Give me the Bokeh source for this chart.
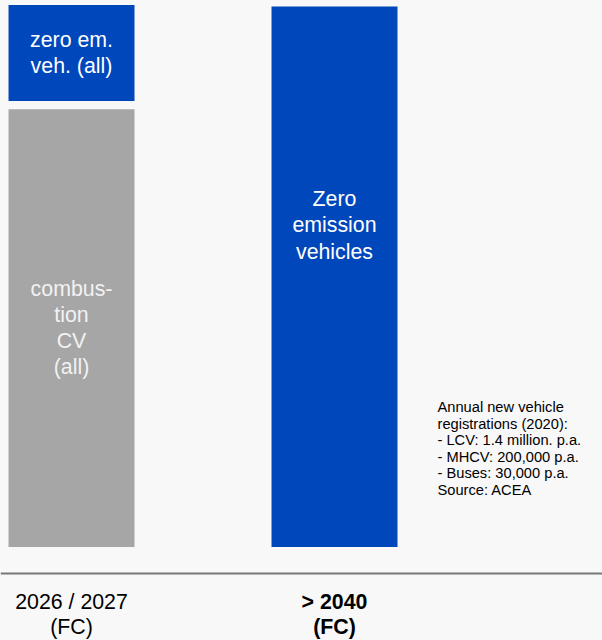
from bokeh.plotting import figure
from bokeh.models import ColumnDataSource, Span, Range1d
from bokeh.core.properties import value
from bokeh.embed import file_html
from bokeh.resources import INLINE

# ---- data ----
periods = ["2026 / 2027\n(FC)", "> 2040\n(FC)"]
combustion_share = [81, 0]      # % combustion commercial vehicles
zero_em_share = [19, 100]       # % zero emission vehicles
combustion_labels = ["combus-\ntion\nCV\n(all)", ""]
zero_em_labels = ["zero em.\nveh. (all)", "Zero\nemission\nvehicles"]
note = ("Annual new vehicle\nregistrations (2020):\n- LCV: 1.4 million. p.a.\n"
        "- MHCV: 200,000 p.a.\n- Buses: 30,000 p.a.\nSource: ACEA")

BLUE = "#0047BB"
GRAY = "#A6A6A6"
BG = "#F8F8F8"
FONT = value("Liberation Sans")
GAP = 1.5

xs = [0, 1]
p = figure(width=602, height=640, output_backend="svg", toolbar_location=None,
           x_range=Range1d(-0.27, 2.019), y_range=Range1d(-17.30, 101.11),
           min_border=0, outline_line_color=None,
           background_fill_color=BG, border_fill_color=BG)
p.axis.visible = False
p.grid.visible = False

comb_src = ColumnDataSource(dict(x=[x for x, c in zip(xs, combustion_share) if c > 0],
                                 top=[c for c in combustion_share if c > 0]))
p.vbar(x="x", top="top", bottom=0, width=0.479, source=comb_src,
       fill_color=GRAY, line_color=None)

zb = [c + GAP if c > 0 else 0 for c in combustion_share]
zt = [c + z + 0.3 if c > 0 else z for c, z in zip(combustion_share, zero_em_share)]
zero_src = ColumnDataSource(dict(x=xs, bottom=zb, top=zt))
p.vbar(x="x", top="top", bottom="bottom", width=0.479, source=zero_src,
       fill_color=BLUE, line_color=None)

# labels inside bars
zy = [(b + t) / 2 for b, t in zip(zb, zt)]
zy[1] = 59.5
p.text(x=xs, y=zy, text=zero_em_labels, text_align="center", text_baseline="middle",
       text_font=FONT, text_font_size="16pt", text_color="white", text_line_height=1.09)
cy = [c / 2 for c in combustion_share]
p.text(x=xs[:1], y=cy[:1], text=combustion_labels[:1], text_align="center",
       text_baseline="middle", text_font=FONT, text_font_size="16pt",
       text_color="#F2F2F2", text_line_height=1.09)

# baseline rule
p.add_layout(Span(location=-4.9, dimension="width", line_color="#777777", line_width=2))

# period labels
p.text(x=xs[:1], y=[-12.49], text=periods[:1], text_align="center", text_baseline="middle",
       text_font=FONT, text_font_size="16pt", text_color="#000000", text_line_height=1.06)
p.text(x=xs[1:], y=[-12.49], text=periods[1:], text_align="center", text_baseline="middle",
       text_font=FONT, text_font_size="16pt", text_font_style="bold",
       text_color="#000000", text_line_height=1.06)

# note
p.text(x=[1.3916], y=[27.29], text=[note], text_align="left", text_baseline="top",
       text_font=FONT, text_font_size="11pt", text_color="#000000", text_line_height=1.03)

style = "<style>html,body{margin:0;padding:0;background:#F8F8F8;overflow:hidden}</style>"
open("out.html", "w").write(file_html(p, INLINE).replace("</head>", style + "</head>"))
